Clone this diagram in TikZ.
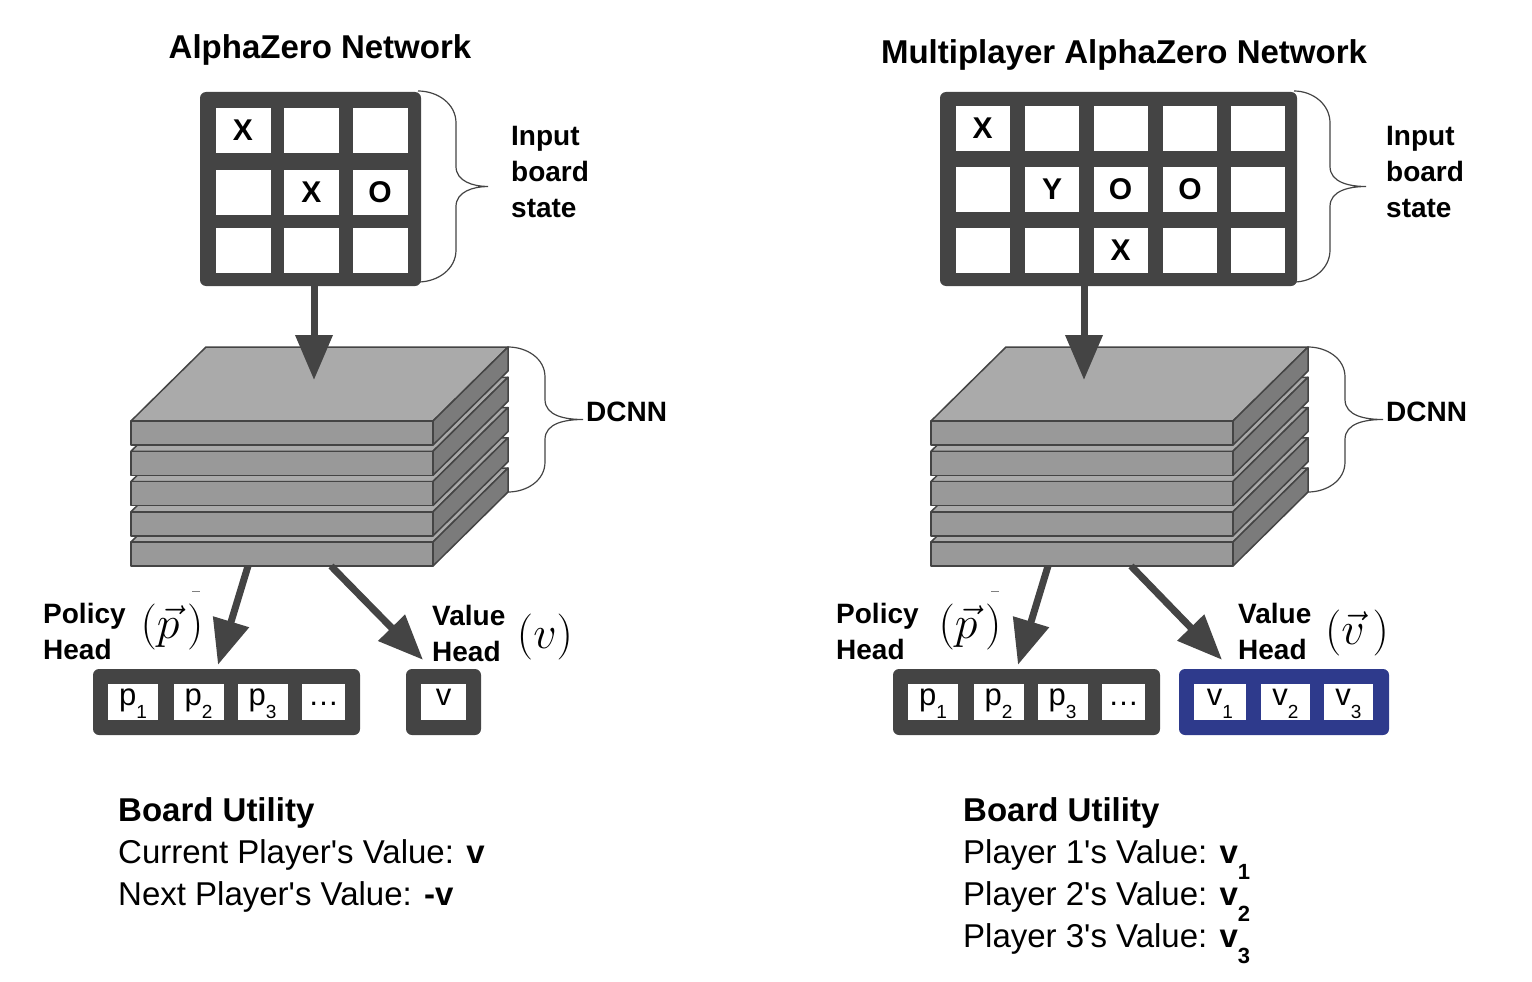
\documentclass[tikz,border=0pt]{standalone}
\usepackage[no-math]{fontspec}
\setmainfont{Liberation Sans}
\usetikzlibrary{arrows.meta, positioning}

\definecolor{boardgray}{HTML}{444444}
\definecolor{topgray}{HTML}{AAAAAA}
\definecolor{frontgray}{HTML}{999999}
\definecolor{sidegray}{HTML}{7B7B7B}
\definecolor{valueblue}{HTML}{2E3A8C}

\tikzset{
    board/.style={
        rectangle, fill=boardgray, rounded corners=6pt, inner sep=0pt
    },
    cell/.style={
        rectangle, fill=white, inner sep=0pt,
        minimum width=55pt, minimum height=45pt,
        font=\fontsize{30}{30}\selectfont\bfseries
    },
    headbox/.style={
        rectangle, fill=boardgray, rounded corners=6pt, inner sep=0pt,
        minimum height=66pt
    },
    headcell/.style={
        rectangle, fill=white, inner sep=0pt,
        minimum width=50pt, minimum height=36pt,
        text height=15pt, text depth=9pt,
        font=\fontsize{31}{31}\selectfont
    },
    flow/.style={draw=boardgray, line width=7pt, -{Triangle[length=45pt, width=36pt]}},
    slab/.style={draw=boardgray, line width=1.5pt, line join=round},
    curly/.style={draw=boardgray, line width=1.2pt},
    sidetext/.style={font=\fontsize{28}{36}\selectfont\bfseries, align=left, inner sep=0pt},
    heading/.style={font=\fontsize{33}{33}\selectfont\bfseries, inner sep=0pt},
    mathtext/.style={font=\Huge, inner sep=0pt},
    utility/.style={font=\fontsize{33}{42}\selectfont, align=left, inner sep=0pt}
}

% straight apostrophe
\newcommand{\apos}{\textquotesingle}
% math label, enlarged
\newcommand{\bigmath}[1]{\scalebox{1.85}{$#1$}}
% subscript digit, set low as in the cells
\newcommand{\lowsub}[1]{\raisebox{-13pt}{\fontsize{19}{19}\selectfont #1}}
\newcommand{\boldsub}[1]{\raisebox{-16pt}{\fontsize{22}{22}\selectfont\bfseries #1}}

% five layers of the convolutional stack
\newcommand{\dcnnlayers}{%
    \foreach \i in {4,3,2,1,0}{
        \pgfmathsetmacro{\slabtop}{421+30.25*\i}
        \draw[slab, fill=topgray] (131,\slabtop) -- (206,\slabtop-74) -- (508,\slabtop-74) -- (433,\slabtop) -- cycle;
        \draw[slab, fill=frontgray] (131,\slabtop) rectangle (433,\slabtop+24);
        \draw[slab, fill=sidegray] (433,\slabtop) -- (508,\slabtop-74) -- (508,\slabtop-50) -- (433,\slabtop+24) -- cycle;
    }%
}

% curly brace: x, top, bottom, inner depth, tip depth, end radius
\newcommand{\curlybrace}[6]{%
    \draw[curly] (#1,#2) to[out=0,in=90] ({#1+#4},{#2+#6})
        -- ({#1+#4},{(#2+#3)/2-20}) to[out=-90,in=180] ({#1+#5},{(#2+#3)/2})
        to[out=180,in=90] ({#1+#4},{(#2+#3)/2+20})
        -- ({#1+#4},{#3-#6}) to[out=-90,in=0] (#1,#3);%
}

\begin{document}
\begin{tikzpicture}[x=1pt, y=-1pt]
\useasboundingbox (0,0) rectangle (1532,982);

% ---------------- AlphaZero (left) ----------------
\node[heading] (titleL) at (320,50) {AlphaZero Network};

% Input board
\node[board, minimum width=221pt, minimum height=194pt] (boardL) at (310.5,189) {};
\foreach \r/\y in {1/130,2/192,3/250}{
    \foreach \c/\x in {1/243,2/311.5,3/380}{
        \node[cell] (cellL-\r-\c) at (\x,\y) {};
    }
}
\node[cell] at (cellL-1-1) {X};
\node[cell] at (cellL-2-2) {X};
\node[cell] at (cellL-2-3) {O};

\curlybrace{418}{91}{282}{38}{70}{32}
\node[sidetext, anchor=west] (inputL) at (511,172) {Input\\board\\state};

% DCNN stack
\dcnnlayers
\curlybrace{508}{347}{492}{37}{75}{30}
\node[sidetext, anchor=west] (dcnnL) at (586,412) {DCNN};
\coordinate (stackinL) at (314,380);
\coordinate (stackpolL) at (248,566);
\coordinate (stackvalL) at (331,566);

% Heads
\node[headbox, minimum width=267pt] (polL) at (226.5,702) {};
\node[headcell] (p1L) at (133,702) {p\lowsub{1}};
\node[headcell] (p2L) at (198.5,702) {p\lowsub{2}};
\node[headcell] (p3L) at (262.5,702) {p\lowsub{3}};
\node[headcell, minimum width=43pt] (pnL) at (323.5,702) {…};

\node[headbox, minimum width=75pt] (valL) at (443.5,702) {};
\node[headcell, minimum width=45pt] (vL) at (443.5,702) {v};

\node[sidetext, anchor=west] (polheadL) at (43,631) {Policy\\Head};
\node[mathtext] (pvecL) at (172,627) {\bigmath{(\vec{p}\,)}};
\draw[gray, line width=1pt] (192,591) -- (200,591);
\node[sidetext, anchor=west] (valheadL) at (432,633) {Value\\Head};
\node[mathtext] (vscalL) at (545,637) {\bigmath{(v)}};

% Connections
\draw[flow] ([xshift=3.5pt]boardL.south) -- (stackinL);
\draw[flow] (stackpolL) -- ([xshift=-8.5pt, yshift=4pt]polL.north);
\draw[flow] (stackvalL) -- ([xshift=-20.5pt, yshift=9pt]valL.north);

% Board utility
\node[utility, anchor=north west] (utilL) at (118,797)
    {\textbf{Board Utility}\\Current Player\apos s Value: \textbf{v}\\Next Player\apos s Value: \textbf{-v}};

% ---------------- Multiplayer AlphaZero (right) ----------------
\node[heading] (titleR) at (1124,55) {Multiplayer AlphaZero Network};

% Input board
\node[board, minimum width=357pt, minimum height=194pt] (boardR) at (1118.5,189) {};
\foreach \r/\y in {1/128,2/189,3/250}{
    \foreach \c/\x in {1/982.5,2/1052,3/1120.5,4/1190,5/1257.5}{
        \node[cell, minimum width=54pt] (cellR-\r-\c) at (\x,\y) {};
    }
}
\node[cell, minimum width=54pt] at (cellR-1-1) {X};
\node[cell, minimum width=54pt] at (cellR-2-2) {Y};
\node[cell, minimum width=54pt] at (cellR-2-3) {O};
\node[cell, minimum width=54pt] at (cellR-2-4) {O};
\node[cell, minimum width=54pt] at (cellR-3-3) {X};

\curlybrace{1294}{91}{282}{36}{72}{32}
\node[sidetext, anchor=west] (inputR) at (1386,172) {Input\\board\\state};

% DCNN stack
\begin{scope}[xshift=800pt]
    \dcnnlayers
    \curlybrace{508}{347}{492}{37}{75}{30}
\end{scope}
\node[sidetext, anchor=west] (dcnnR) at (1386,412) {DCNN};
\coordinate (stackinR) at (1084,380);
\coordinate (stackpolR) at (1048,566);
\coordinate (stackvalR) at (1131,566);

% Heads
\node[headbox, minimum width=267pt] (polR) at (1026.5,702) {};
\node[headcell] (p1R) at (933,702) {p\lowsub{1}};
\node[headcell] (p2R) at (998.5,702) {p\lowsub{2}};
\node[headcell] (p3R) at (1062.5,702) {p\lowsub{3}};
\node[headcell, minimum width=43pt] (pnR) at (1123.5,702) {…};

\node[headbox, fill=valueblue, minimum width=210pt] (valR) at (1284,702) {};
\node[headcell, minimum width=52pt] (v1R) at (1220,702) {v\lowsub{1}};
\node[headcell, minimum width=49pt] (v2R) at (1285.5,702) {v\lowsub{2}};
\node[headcell, minimum width=49pt] (v3R) at (1348.5,702) {v\lowsub{3}};

\node[sidetext, anchor=west] (polheadR) at (836,631) {Policy\\Head};
\node[mathtext] (pvecR) at (970,627) {\bigmath{(\vec{p}\,)}};
\draw[gray, line width=1pt] (991,591) -- (999,591);
\node[sidetext, anchor=west] (valheadR) at (1238,631) {Value\\Head};
\node[mathtext] (vvecR) at (1357,633) {\bigmath{(\vec{v}\,)}};

% Connections
\draw[flow] ([xshift=-34.5pt]boardR.south) -- (stackinR);
\draw[flow] (stackpolR) -- ([xshift=-8.5pt, yshift=4pt]polR.north);
\draw[flow] (stackvalR) -- ([xshift=-62pt, yshift=9pt]valR.north);

% Board utility
\node[utility, anchor=north west] (utilR) at (963,797)
    {\textbf{Board Utility}\\Player 1\apos s Value: \textbf{v}\boldsub{1}\\Player 2\apos s Value: \textbf{v}\boldsub{2}\\Player 3\apos s Value: \textbf{v}\boldsub{3}};

\end{tikzpicture}
\end{document}
